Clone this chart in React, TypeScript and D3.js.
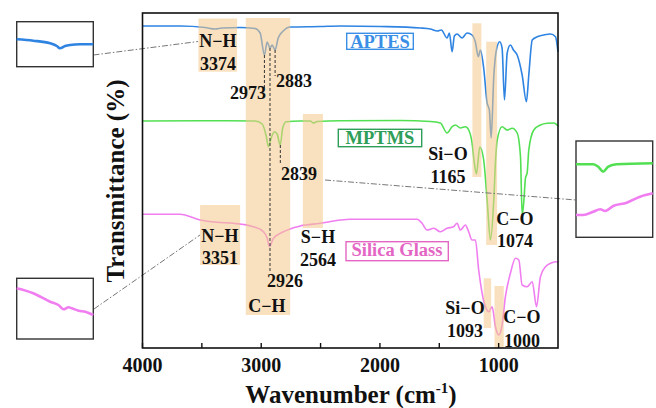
import { useEffect, useRef } from "react";
import * as d3 from "d3";

// wavenumber (cm-1) and transmittance (a.u., offset per trace)
const waveAPTES = [4000, 3684, 3473, 3389, 3330, 3178, 3051, 3009, 2973, 2950, 2926, 2908, 2883, 2857, 2815, 2756, 2503, 2334, 1997, 1660, 1575, 1516, 1483, 1434, 1415, 1392, 1373, 1350, 1308, 1266, 1224, 1196, 1171, 1154, 1126, 1097, 1078, 1063, 1041, 1019, 991, 971, 951, 928, 901, 875, 844, 802, 766, 746, 717, 675, 620, 563, 521, 500];
const tAPTES = [322, 322, 320.5, 319, 320, 320.5, 319.5, 315, 293, 306, 300, 303, 298, 310, 317, 321, 321.5, 322, 321.5, 320, 319, 317, 318, 310, 315, 296.3, 312, 314, 310, 315, 313, 306, 291.3, 298, 280, 245, 238, 210, 271.3, 298, 306.3, 300, 248, 295, 303, 298, 293, 273, 246.3, 273, 308, 311.3, 313, 314, 311.3, 296];

const waveMPTMS = [4000, 3515, 3051, 2992, 2958, 2939, 2916, 2888, 2866, 2840, 2819, 2790, 2672, 2587, 2560, 2528, 2334, 1828, 1575, 1491, 1434, 1392, 1364, 1322, 1280, 1252, 1224, 1208, 1187, 1159, 1126, 1097, 1069, 1041, 1026, 1012, 971, 928, 886, 844, 816, 802, 787, 774, 760, 746, 704, 648, 591, 535, 500];
const tMPTMS = [227, 227.3, 227, 224, 212, 201.3, 210, 216.3, 214, 203, 220, 226.3, 227, 227, 225, 226.5, 227.3, 227.5, 226.5, 225, 215, 221.3, 223, 220, 221.3, 218, 205, 188, 174, 201, 188, 148, 108, 148, 188, 208, 221.3, 218, 219.7, 215, 191.3, 133, 148, 170, 175, 198, 218, 223, 224.7, 225, 222];

const waveSilica = [4000, 3684, 3515, 3374, 3234, 3066, 2981, 2950, 2931, 2897, 2813, 2672, 2503, 2334, 2250, 1687, 1645, 1603, 1547, 1491, 1434, 1379, 1350, 1322, 1280, 1252, 1224, 1196, 1168, 1139, 1111, 1083, 1055, 1027, 999, 971, 943, 901, 858, 830, 802, 760, 717, 681, 648, 605, 563, 521, 500];
const tSilica = [133.7, 133.7, 128, 125.7, 124.7, 121.3, 116.3, 110, 101.3, 109.7, 116.3, 122, 124.7, 128, 128.7, 128.7, 124.7, 118, 119.7, 116.3, 119.7, 121.3, 124.7, 118, 123, 116, 108, 108, 78, 54.7, 41.3, 36.3, 41.3, 21.3, 13, 23, 51.3, 74.7, 89.7, 88, 63, 61.3, 66.3, 41.3, 71.3, 81.3, 84.7, 86.3, 86];

// zoomed insets
const waveInsetNH = [3500, 3446, 3391, 3369, 3359, 3342, 3326, 3293, 3250];
const tInsetAPTES = [27.4, 26, 23.4, 20.7, 18.4, 20.7, 21.7, 22.4, 22.4];
const waveInsetSilicaNH = [3500, 3446, 3391, 3364, 3347, 3331, 3320, 3298, 3276, 3250];
const tInsetSilica = [50.7, 45.7, 37.3, 34, 29.7, 31.7, 30.7, 28.3, 27.3, 24];
const waveInsetSHgreen = [2640, 2595, 2582, 2569, 2556, 2534, 2440];
const tInsetSHgreen = [73, 73, 70.6, 65.6, 70.6, 73, 74];
const waveInsetSHpink = [2640, 2621, 2595, 2577, 2564, 2543, 2508, 2473, 2440];
const tInsetSHpink = [22.3, 22.3, 25.6, 28, 26.3, 31.3, 34.6, 40.6, 44];

const xTicks = [4000, 3000, 2000, 1000];
const xMinorTicks = [3500, 2500, 1500];

// highlighted bands: [wave high, wave low, t top, t bottom]
const bands = [
  [3529, 3203, 329.5, 276.3],
  [3130, 2756, 330, 33],
  [2649, 2480, 234, 120],
  [3515, 3178, 143, 83],
  [1221, 1145, 324.7, 171],
  [1105, 1013, 306.3, 103],
  [1126, 1063, 69.7, 20],
  [1035, 957, 62, 0],
];

const dashedWaves = [2973, 2926, 2883, 2839];
const dashedSpans = [[293, 258], [300, 75], [298, 272], [203, 183]];

// annotation text: [label, x, y]
const peakLabels: [string, number, number][] = [
  ["N\u2212H", 218, 47], ["3374", 218, 70],
  ["2973", 248, 99], ["2883", 294, 87], ["2839", 299, 180],
  ["Si\u2212O", 448, 160], ["1165", 448, 183],
  ["C\u2212O", 515, 225], ["1074", 515, 247],
  ["N\u2212H", 220, 242], ["3351", 220, 264],
  ["2926", 285, 287], ["C\u2212H", 267, 312],
  ["S\u2212H", 318, 243], ["2564", 318, 266],
  ["Si\u2212O", 465, 314], ["1093", 465, 337],
  ["C\u2212O", 522, 323], ["1000", 522, 347],
];

const SERIF = "'Times New Roman', 'Liberation Serif', serif";

export default function App() {
  const svgRef = useRef<SVGSVGElement>(null);

  useEffect(() => {
    const svg = d3.select(svgRef.current);
    svg.selectAll("*").remove();

    const left = 142.5, right = 558, top = 13, bottom = 348;
    const x = d3.scaleLinear().domain([4000, 500]).range([left, right]);
    const y = d3.scaleLinear().domain([0, 335]).range([bottom, top]);

    const line = d3.line<[number, number]>()
      .x(d => x(d[0])).y(d => y(d[1]))
      .curve(d3.curveMonotoneX);

    const series = [
      { w: waveAPTES, t: tAPTES, color: "#2f84e2" },
      { w: waveMPTMS, t: tMPTMS, color: "#52e052" },
      { w: waveSilica, t: tSilica, color: "#f07ef0" },
    ];
    series.forEach(s => {
      svg.append("path")
        .attr("d", line(s.w.map((w, i) => [w, s.t[i]] as [number, number])))
        .attr("fill", "none")
        .attr("stroke", s.color)
        .attr("stroke-width", 1.6);
    });

    // bands on top, translucent
    svg.append("g").selectAll("rect").data(bands).join("rect")
      .attr("x", d => x(d[0]))
      .attr("width", d => x(d[1]) - x(d[0]))
      .attr("y", d => y(d[2]))
      .attr("height", d => y(d[3]) - y(d[2]))
      .attr("fill", "#f4c88a")
      .attr("opacity", 0.55);

    // dashed peak markers
    dashedWaves.forEach((w, i) => {
      svg.append("line")
        .attr("x1", x(w)).attr("x2", x(w))
        .attr("y1", y(dashedSpans[i][0])).attr("y2", y(dashedSpans[i][1]))
        .attr("stroke", "#333").attr("stroke-width", 1)
        .attr("stroke-dasharray", "3,2");
    });

    // dash-dot connectors to insets
    const connectors = [[93.5, 55, 198, 41.5], [94, 309, 200, 235], [325, 180, 576, 200]];
    connectors.forEach(c => {
      svg.append("line")
        .attr("x1", c[0]).attr("y1", c[1]).attr("x2", c[2]).attr("y2", c[3])
        .attr("stroke", "#777").attr("stroke-width", 1)
        .attr("stroke-dasharray", "6,2,1.5,2");
    });

    // sample name boxes
    const names = [
      { text: "APTES", cx: 380, y: 48, box: [346.7, 33.3, 66.6, 16], color: "#3a8ee6" },
      { text: "MPTMS", cx: 380, y: 144, box: [338.3, 129.3, 83.4, 17.4], color: "#2e9e58" },
      { text: "Silica Glass", cx: 397, y: 256, box: [346, 241.7, 102.3, 19], color: "#e466c4" },
    ];
    names.forEach(n => {
      svg.append("rect")
        .attr("x", n.box[0]).attr("y", n.box[1]).attr("width", n.box[2]).attr("height", n.box[3])
        .attr("fill", "white").attr("fill-opacity", 0.6)
        .attr("stroke", n.color).attr("stroke-width", 1.4);
      svg.append("text")
        .attr("x", n.cx).attr("y", n.y)
        .attr("text-anchor", "middle")
        .attr("font-family", SERIF).attr("font-weight", "bold").attr("font-size", 18.5)
        .attr("fill", n.color)
        .text(n.text);
    });

    // peak labels
    svg.append("g").selectAll("text").data(peakLabels).join("text")
      .attr("x", d => d[1]).attr("y", d => d[2])
      .attr("text-anchor", "middle")
      .attr("font-family", SERIF).attr("font-weight", "bold").attr("font-size", 18)
      .attr("fill", "#111")
      .text(d => d[0]);

    // frame + ticks
    svg.append("rect")
      .attr("x", left).attr("y", top).attr("width", right - left).attr("height", bottom - top)
      .attr("fill", "none").attr("stroke", "#111").attr("stroke-width", 1.6);

    svg.append("g").selectAll("line").data([...xTicks, ...xMinorTicks]).join("line")
      .attr("x1", d => x(d)).attr("x2", d => x(d))
      .attr("y1", bottom).attr("y2", bottom - 5)
      .attr("stroke", "#111").attr("stroke-width", 1.4);

    svg.append("g").selectAll("text").data(xTicks).join("text")
      .attr("x", d => x(d)).attr("y", 372)
      .attr("text-anchor", "middle")
      .attr("font-family", SERIF).attr("font-weight", "bold").attr("font-size", 20)
      .attr("fill", "#111")
      .text(d => d);

    const xt = svg.append("text")
      .attr("x", 351).attr("y", 403)
      .attr("text-anchor", "middle")
      .attr("font-family", SERIF).attr("font-weight", "bold").attr("font-size", 25)
      .attr("fill", "#111");
    xt.append("tspan").text("Wavenumber (cm");
    xt.append("tspan").attr("dy", -10).attr("font-size", 15).text("-1");
    xt.append("tspan").attr("dy", 10).text(")");

    svg.append("text")
      .attr("transform", "translate(124,181) rotate(-90)")
      .attr("text-anchor", "middle")
      .attr("font-family", SERIF).attr("font-weight", "bold").attr("font-size", 25)
      .attr("fill", "#111")
      .text("Transmittance (%)");

    // insets
    const insets = [
      { box: [16.7, 21.7, 76.6, 45], dom: [3500, 3250], ymax: 45, traces: [{ w: waveInsetNH, t: tInsetAPTES, c: "#2f84e2" }] },
      { box: [16.7, 278.3, 76.6, 60.7], dom: [3500, 3250], ymax: 60.7, traces: [{ w: waveInsetSilicaNH, t: tInsetSilica, c: "#f07ef0" }] },
      { box: [576, 141, 76.7, 96.3], dom: [2640, 2440], ymax: 96.3, traces: [
        { w: waveInsetSHgreen, t: tInsetSHgreen, c: "#52e052" },
        { w: waveInsetSHpink, t: tInsetSHpink, c: "#f07ef0" },
      ] },
    ];
    insets.forEach(ins => {
      const [bx, by, bw, bh] = ins.box;
      const ix = d3.scaleLinear().domain(ins.dom).range([bx, bx + bw]);
      const iy = d3.scaleLinear().domain([0, ins.ymax]).range([by + bh, by]);
      const il = d3.line<[number, number]>().x(d => ix(d[0])).y(d => iy(d[1])).curve(d3.curveMonotoneX);
      svg.append("rect")
        .attr("x", bx).attr("y", by).attr("width", bw).attr("height", bh)
        .attr("fill", "white").attr("stroke", "#333").attr("stroke-width", 1.4);
      ins.traces.forEach(tr => {
        svg.append("path")
          .attr("d", il(tr.w.map((w, i) => [w, tr.t[i]] as [number, number])))
          .attr("fill", "none").attr("stroke", tr.c).attr("stroke-width", 2.6);
      });
    });
  }, []);

  return (
    <svg
      ref={svgRef}
      width={656}
      height={408}
      style={{ position: "absolute", left: 0, top: 0, background: "white" }}
    />
  );
}
